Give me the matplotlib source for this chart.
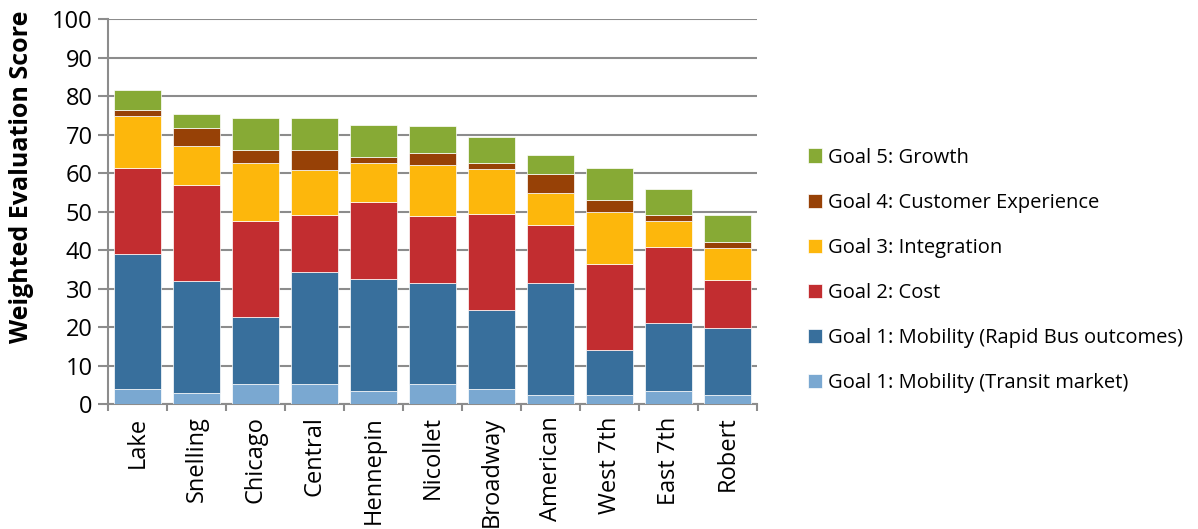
import matplotlib
matplotlib.use("Agg")
import matplotlib.pyplot as plt
import numpy as np

corridors = ["Lake", "Snelling", "Chicago", "Central", "Hennepin", "Nicollet",
             "Broadway", "American", "West 7th", "East 7th", "Robert"]

transit_market = [4.0, 2.9, 5.1, 5.1, 3.4, 5.1, 4.0, 2.3, 2.3, 3.4, 2.3]
rapid_bus = [34.9, 29.1, 17.4, 29.1, 29.2, 26.3, 20.4, 29.1, 11.7, 17.6, 17.5]
cost = [22.5, 24.9, 25.1, 15.0, 20.0, 17.4, 25.0, 15.0, 22.4, 19.9, 12.4]
integration = [13.4, 10.0, 15.0, 11.6, 10.0, 13.3, 11.6, 8.4, 13.4, 6.7, 8.4]
customer = [1.5, 4.9, 3.3, 5.1, 1.5, 3.2, 1.7, 5.0, 3.3, 1.6, 1.6]
growth = [5.2, 3.6, 8.3, 8.3, 8.4, 6.8, 6.6, 4.9, 8.3, 6.7, 6.8]

series = [
    ("Goal 1: Mobility (Transit market)", transit_market, "#7AA8D1"),
    ("Goal 1: Mobility (Rapid Bus outcomes)", rapid_bus, "#386F9C"),
    ("Goal 2: Cost", cost, "#C22D30"),
    ("Goal 3: Integration", integration, "#FDB70C"),
    ("Goal 4: Customer Experience", customer, "#974106"),
    ("Goal 5: Growth", growth, "#87AA35"),
]

plt.rcParams["font.family"] = ["Open Sans", "DejaVu Sans"]

fig = plt.figure(figsize=(11.98, 5.29), dpi=100)
ax = fig.add_axes([0.0902, 0.2363, 0.5418, 0.7277])

x = np.arange(len(corridors))
bottom = np.zeros(len(corridors))
handles = []
for label, vals, color in series:
    b = ax.bar(x, vals, width=0.8, bottom=bottom, color=color,
               edgecolor="white", linewidth=0.5, label=label, zorder=3)
    handles.append(b)
    bottom += np.array(vals)

grid_c = "#8C8C8C"
ax.set_xlim(-0.5, len(corridors) - 0.5)
ax.set_ylim(0, 100)
ax.set_yticks(range(0, 101, 10))
ax.yaxis.grid(True, color=grid_c, lw=1.5, zorder=0)
ax.set_axisbelow(True)

ax.set_xticks(x)
ax.set_xticklabels(corridors, rotation=90, fontsize=17)
ax.set_xticks(np.arange(-0.5, len(corridors)), minor=True)
ax.tick_params(axis="x", which="major", length=0, pad=9)
ax.tick_params(axis="x", which="minor", length=5, width=1.5, color=grid_c)
ax.tick_params(axis="y", length=7, width=1.5, color=grid_c, labelsize=17, pad=4)

for s in ["top", "right"]:
    ax.spines[s].set_visible(False)
for s in ["left", "bottom"]:
    ax.spines[s].set_color(grid_c)
    ax.spines[s].set_linewidth(1.5)

fig.text(0.018, 1 - 177 / 529, "Weighted Evaluation Score", rotation=90,
         ha="center", va="center", fontsize=18, fontweight="bold")

# legend block centred a bit below the axes middle, as in the original
ax.legend(handles[::-1], [s[0] for s in series][::-1],
          loc="center left", bbox_to_anchor=(1.05, 0.5 - 59 / 385),
          frameon=False, fontsize=14.5, handlelength=0.7, handleheight=0.7,
          handletextpad=0.3, labelspacing=1.25)

fig.savefig("out.png", dpi=100)
